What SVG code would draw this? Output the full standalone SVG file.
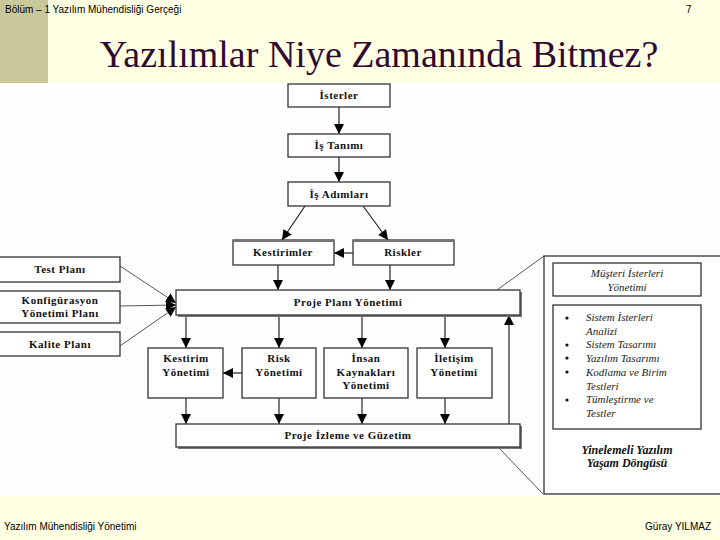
<svg xmlns="http://www.w3.org/2000/svg" width="720" height="540" viewBox="0 0 720 540">
<defs>
<style>
.box{fill:#ffffff;stroke:#333333;stroke-width:1.3}
.sh{fill:#777777}
.lbl{font-family:"Liberation Serif","Times New Roman",serif;font-size:11px;font-weight:bold;fill:#111111;text-anchor:middle;letter-spacing:0.5px}
.it{font-family:"Liberation Serif","Times New Roman",serif;font-size:11px;font-style:italic;fill:#222222}
.bi{font-family:"Liberation Serif","Times New Roman",serif;font-size:12px;font-style:italic;font-weight:bold;fill:#111111;text-anchor:middle}
.hdr{font-family:"Liberation Sans",Arial,sans-serif;font-size:10px;fill:#000000}
.con{stroke:#222222;stroke-width:1.2;fill:none}
.thin{stroke:#444444;stroke-width:0.9;fill:none}
</style>
<marker id="ah" markerUnits="userSpaceOnUse" markerWidth="10" markerHeight="10" viewBox="0 0 10 10" refX="10" refY="5" orient="auto">
<path d="M0,0 L10,5 L0,10 z" fill="#000000"/>
</marker>
</defs>
<rect x="0" y="0" width="720" height="540" fill="#FFFFE3"/>
<rect x="0" y="0" width="48" height="83" fill="#C8C89A"/>
<rect x="0" y="83" width="720" height="413" fill="#FEFEFE"/>
<text class="hdr" x="5" y="13">Bölüm – 1 Yazılım Mühendisliği Gerçeği</text>
<text class="hdr" x="686" y="13">7</text>
<text x="379" y="67" text-anchor="middle" font-family="Liberation Serif,'Times New Roman',serif" font-size="38" fill="#2E0A30">Yazılımlar Niye Zamanında Bitmez?</text>
<text class="hdr" x="4" y="530">Yazılım Mühendisliği Yönetimi</text>
<text class="hdr" x="711" y="530" text-anchor="end">Güray YILMAZ</text>

<g id="connectors">
<line class="con" x1="339" y1="107" x2="339" y2="134" marker-end="url(#ah)"/>
<line class="con" x1="339" y1="157" x2="339" y2="182" marker-end="url(#ah)"/>
<line class="con" x1="305" y1="206" x2="282" y2="240" marker-end="url(#ah)"/>
<line class="con" x1="363" y1="206" x2="388" y2="240" marker-end="url(#ah)"/>
<line class="con" x1="353" y1="253" x2="334" y2="253" marker-end="url(#ah)"/>
<line class="con" x1="278" y1="265" x2="278" y2="290" marker-end="url(#ah)"/>
<line class="con" x1="390" y1="265" x2="390" y2="290" marker-end="url(#ah)"/>
<line class="thin" x1="120" y1="266" x2="176" y2="303" marker-end="url(#ah)"/>
<line class="thin" x1="120" y1="306" x2="176" y2="305" marker-end="url(#ah)"/>
<line class="thin" x1="120" y1="346" x2="176" y2="307" marker-end="url(#ah)"/>
<line class="con" x1="186" y1="315" x2="186" y2="348" marker-end="url(#ah)"/>
<line class="con" x1="279" y1="315" x2="279" y2="348" marker-end="url(#ah)"/>
<line class="con" x1="362" y1="315" x2="362" y2="348" marker-end="url(#ah)"/>
<line class="con" x1="445" y1="315" x2="445" y2="348" marker-end="url(#ah)"/>
<line class="con" x1="242" y1="373" x2="223" y2="373" marker-end="url(#ah)"/>
<line class="con" x1="186" y1="398" x2="186" y2="424" marker-end="url(#ah)"/>
<line class="con" x1="279" y1="398" x2="279" y2="424" marker-end="url(#ah)"/>
<line class="con" x1="362" y1="398" x2="362" y2="424" marker-end="url(#ah)"/>
<line class="con" x1="445" y1="398" x2="445" y2="424" marker-end="url(#ah)"/>
<line class="con" x1="509" y1="424" x2="509" y2="315" marker-end="url(#ah)"/>
<line class="thin" x1="497" y1="290" x2="544" y2="256"/>
<line class="thin" x1="498" y1="447" x2="543" y2="494"/>
</g>

<g id="isterler"><rect class="box" x="288" y="84" width="102" height="23"/><text class="lbl" x="339" y="99">İsterler</text></g>
<g id="is-tanimi"><rect class="box" x="288" y="134" width="102" height="23"/><text class="lbl" x="339" y="149">İş Tanımı</text></g>
<g id="is-adimlari"><rect class="box" x="288" y="182" width="102" height="24"/><text class="lbl" x="339" y="198">İş Adımları</text></g>
<g id="kestirimler"><rect class="box" x="233" y="240" width="101" height="25"/><line x1="233" y1="241" x2="334" y2="241" stroke="#777" stroke-width="2"/><text class="lbl" x="283" y="256">Kestirimler</text></g>
<g id="riskler"><rect class="box" x="353" y="240" width="101" height="25"/><line x1="353" y1="241" x2="454" y2="241" stroke="#777" stroke-width="2"/><text class="lbl" x="403" y="256">Riskler</text></g>

<g id="test-plani"><rect class="box" x="-1" y="257" width="121" height="25"/><text class="lbl" x="60" y="273">Test Planı</text></g>
<g id="konfigurasyon"><rect class="box" x="-1" y="291" width="121" height="32"/><text class="lbl" x="60" y="304">Konfigürasyon</text><text class="lbl" x="60" y="317">Yönetimi Planı</text></g>
<g id="kalite-plani"><rect class="box" x="-1" y="332" width="121" height="24"/><text class="lbl" x="60" y="348">Kalite Planı</text></g>

<g id="proje-plani"><rect class="sh" x="178" y="292" width="344" height="25"/><rect class="box" x="176" y="290" width="344" height="25"/><text class="lbl" x="348" y="306">Proje Planı Yönetimi</text></g>

<g id="kestirim-yonetimi"><rect class="box" x="148" y="348" width="75" height="50"/><text class="lbl" x="186" y="362">Kestirim</text><text class="lbl" x="186" y="376">Yönetimi</text></g>
<g id="risk-yonetimi"><rect class="box" x="242" y="348" width="74" height="50"/><text class="lbl" x="279" y="362">Risk</text><text class="lbl" x="279" y="376">Yönetimi</text></g>
<g id="insan-kaynaklari"><rect class="box" x="324" y="348" width="84" height="50"/><text class="lbl" x="366" y="362">İnsan</text><text class="lbl" x="366" y="376">Kaynakları</text><text class="lbl" x="366" y="389">Yönetimi</text></g>
<g id="iletisim-yonetimi"><rect class="box" x="417" y="348" width="75" height="50"/><text class="lbl" x="454" y="362">İletişim</text><text class="lbl" x="454" y="376">Yönetimi</text></g>

<g id="proje-izleme"><rect class="sh" x="178" y="426" width="344" height="23"/><rect class="box" x="176" y="424" width="344" height="23"/><text class="lbl" x="348" y="439">Proje İzleme ve Güzetim</text></g>

<g id="yasam-dongusu">
<rect class="box" x="544" y="256" width="180" height="238"/>
<rect class="box" x="553" y="263" width="148" height="33"/>
<text class="it" x="627" y="277" text-anchor="middle">Müşteri İsterleri</text>
<text class="it" x="627" y="291" text-anchor="middle">Yönetimi</text>
<rect class="box" x="553" y="305" width="148" height="124"/>
<circle cx="567" cy="318" r="1.6" fill="#111"/>
<circle cx="567" cy="345" r="1.6" fill="#111"/>
<circle cx="567" cy="358" r="1.6" fill="#111"/>
<circle cx="567" cy="372" r="1.6" fill="#111"/>
<circle cx="567" cy="400" r="1.6" fill="#111"/>
<text class="it" x="586" y="321">Sistem İsterleri</text>
<text class="it" x="586" y="335">Analizi</text>
<text class="it" x="586" y="348">Sistem  Tasarımı</text>
<text class="it" x="586" y="362">Yazılım Tasarımı</text>
<text class="it" x="586" y="376">Kodlama ve Birim</text>
<text class="it" x="586" y="390">Testleri</text>
<text class="it" x="586" y="403">Tümleştirme ve</text>
<text class="it" x="586" y="417">Testler</text>
<text class="bi" x="627" y="454">Yinelemeli Yazılım</text>
<text class="bi" x="627" y="467">Yaşam Döngüsü</text>
</g>
</svg>
